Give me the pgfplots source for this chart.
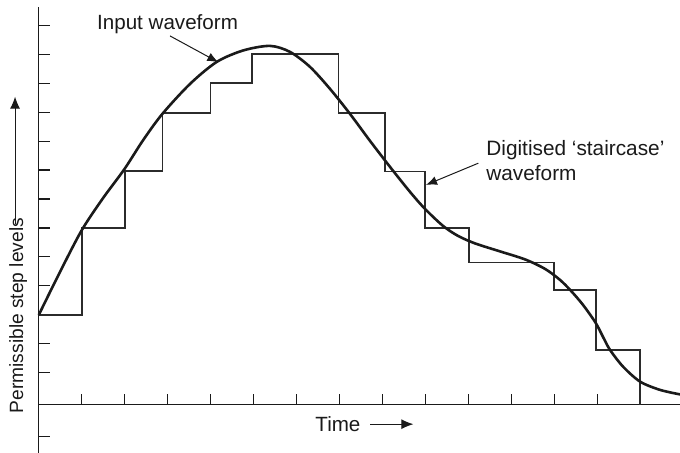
\documentclass[border=0pt]{standalone}
\usepackage{fontspec}
\setmainfont{Liberation Sans}
\usepackage{pgfplots}
\pgfplotsset{compat=1.18}
\usetikzlibrary{arrows.meta}
\definecolor{ink}{HTML}{1A1A1A}
\definecolor{stair}{HTML}{2B2B2B}
\begin{document}
\begin{tikzpicture}
\begin{axis}[
  scale only axis,
  width=320.6pt, height=223.1pt,
  xmin=0, xmax=14.93,
  ymin=-1.66, ymax=13.77,
  axis lines=middle,
  axis line style={-, line width=0.6pt, ink},
  xtick={1,2,...,14},
  ytick={-1.1,1.12,2.12,3.12,4.12,5.12,6.12,7.12,8.12,9.12,10.12,11.12,12.12,13.12},
  xticklabel=\empty, yticklabel=\empty,
  tick align=inside,
  major tick length=5.5pt,
  tick style={line width=0.6pt, ink},
  clip=false,
]
% digitised staircase
\addplot[const plot, line width=0.85pt, stair] coordinates {
  (0,3.11) (1,6.11) (2,8.10) (2.88,10.09) (4,11.14) (4.96,12.14)
  (6.98,10.09) (8.06,8.07) (9,6.11) (10.02,4.92) (12,3.98) (12.97,1.90) (14,0)
};
% input waveform
\addplot[smooth, line width=1.3pt, ink] coordinates {
  (0,3.112) (0.4948,4.600) (1.000,6.040) (1.4959,7.150) (1.9919,8.150)
  (2.4272,9.150) (2.8766,10.062) (3.5215,11.100) (4.1432,11.860) (4.7625,12.258)
  (5.3842,12.414) (5.8498,12.206) (6.3155,11.687) (6.7811,10.927) (7.2468,10.062)
  (7.7125,9.129) (8.1781,8.230) (8.6438,7.365) (8.9930,6.777) (9.4121,6.190)
  (9.7614,5.844) (10.1572,5.584) (10.7392,5.308) (11.3213,5.031) (11.7870,4.703)
  (12.1362,4.322) (12.3923,3.942) (12.6717,3.458) (12.9674,2.835) (13.1374,2.351)
  (13.3003,1.902) (13.6030,1.324) (13.9988,0.806) (14.4645,0.519) (14.9302,0.363)
};
% labels
\node[anchor=base west, inner sep=0pt, font=\fontsize{10.3}{12}\selectfont, ink] at (axis cs:1.349,12.99) {Input waveform};
\node[anchor=base west, inner sep=0pt, font=\fontsize{10.4}{12}\selectfont, ink] at (axis cs:10.413,8.610) {Digitised ‘staircase’};
\node[anchor=base west, inner sep=0pt, font=\fontsize{10.4}{12}\selectfont, ink] at (axis cs:10.413,7.746) {waveform};
\node[anchor=base west, inner sep=0pt, font=\fontsize{10.3}{12}\selectfont, ink] at (axis cs:6.432,-0.923) {Time};
\node[anchor=base west, inner sep=0pt, rotate=90, font=\fontsize{9.6}{12}\selectfont, ink] at (axis cs:-0.367,-0.30) {Permissible step levels};
% arrows
\draw[line width=0.5pt, ink, -{Latex[length=5.5pt,width=4.5pt]}] (axis cs:3.055,12.759) -- (axis cs:4.180,11.850);
\draw[line width=0.5pt, ink, -{Latex[length=5.5pt,width=4.5pt]}] (axis cs:10.234,8.358) -- (axis cs:9.016,7.607);
\draw[line width=0.5pt, ink, -{Latex[length=6pt,width=5pt]}] (axis cs:7.712,-0.667) -- (axis cs:8.721,-0.667);
\draw[line width=0.5pt, ink, -{Latex[length=6pt,width=5pt]}] (axis cs:-0.553,6.25) -- (axis cs:-0.553,10.66);
\end{axis}
\path (current axis.south west) ++(-19.4pt,0pt) coordinate (bbA);
\path (current axis.north east) ++(0pt,3.35pt) coordinate (bbB);
\pgfresetboundingbox
\useasboundingbox (bbA) rectangle (bbB);
\end{tikzpicture}
\end{document}
